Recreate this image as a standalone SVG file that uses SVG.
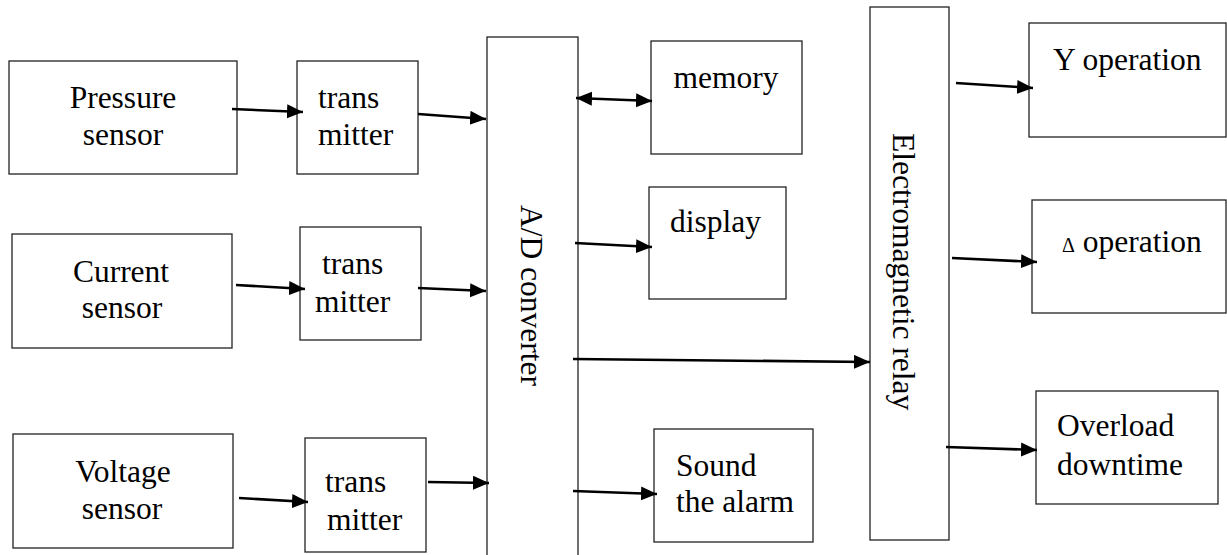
<svg xmlns="http://www.w3.org/2000/svg" width="1227" height="555" viewBox="0 0 1227 555">
  <style>
    .box { fill: #fff; stroke: #222; stroke-width: 1.3; }
    .lbl { font-family: 'Liberation Serif', 'DejaVu Serif', serif; font-size: 31.5px; fill: #000; }
    .mid { text-anchor: middle; }
    .wire { stroke: #000; stroke-width: 2.6; fill: none; marker-end: url(#head); }
    .both { marker-start: url(#head); }
  </style>
  <defs>
    <marker id="head" markerUnits="userSpaceOnUse" markerWidth="18" markerHeight="15" refX="16" refY="7" orient="auto-start-reverse">
      <path d="M0,0 L16,7 L0,14 Z" fill="#000"/>
    </marker>
  </defs>
  <rect width="1227" height="555" fill="#fff"/>

  <!-- sensors -->
  <g id="pressure-sensor">
    <rect class="box" x="9" y="61" width="228" height="113"/>
    <text class="lbl mid" x="123" y="108">Pressure</text>
    <text class="lbl mid" x="123" y="145">sensor</text>
  </g>
  <g id="current-sensor">
    <rect class="box" x="12" y="234" width="220" height="114"/>
    <text class="lbl mid" x="121" y="282">Current</text>
    <text class="lbl mid" x="122" y="318">sensor</text>
  </g>
  <g id="voltage-sensor">
    <rect class="box" x="13" y="434" width="220" height="114"/>
    <text class="lbl mid" x="123" y="482">Voltage</text>
    <text class="lbl mid" x="122" y="519">sensor</text>
  </g>

  <!-- transmitters -->
  <g id="transmitter-1">
    <rect class="box" x="297" y="61" width="121" height="113"/>
    <text class="lbl" x="318" y="108">trans</text>
    <text class="lbl" x="318" y="145">mitter</text>
  </g>
  <g id="transmitter-2">
    <rect class="box" x="300" y="227" width="121" height="113"/>
    <text class="lbl" x="322" y="274">trans</text>
    <text class="lbl" x="315" y="312">mitter</text>
  </g>
  <g id="transmitter-3">
    <rect class="box" x="305" y="438" width="121" height="114"/>
    <text class="lbl" x="325" y="492">trans</text>
    <text class="lbl" x="327" y="530">mitter</text>
  </g>

  <!-- converter -->
  <g id="ad-converter">
    <rect class="box" x="487" y="37" width="91" height="530"/>
    <text class="lbl" transform="translate(521,205) rotate(90)" x="0" y="0">A/D converter</text>
  </g>

  <!-- outputs of the converter -->
  <g id="memory">
    <rect class="box" x="651" y="41" width="151" height="113"/>
    <text class="lbl mid" x="726" y="88">memory</text>
  </g>
  <g id="display">
    <rect class="box" x="649" y="187" width="137" height="112"/>
    <text class="lbl" x="670" y="232">display</text>
  </g>
  <g id="alarm">
    <rect class="box" x="654" y="429" width="159" height="113"/>
    <text class="lbl" x="676" y="476">Sound</text>
    <text class="lbl" x="676" y="512">the alarm</text>
  </g>

  <!-- relay -->
  <g id="relay">
    <rect class="box" x="870" y="7" width="79" height="533"/>
    <text class="lbl" transform="translate(893,133) rotate(90)" x="0" y="0">Electromagnetic relay</text>
  </g>

  <!-- relay outputs -->
  <g id="y-operation">
    <rect class="box" x="1029" y="23" width="197" height="114"/>
    <text class="lbl" x="1053" y="70">Y operation</text>
  </g>
  <g id="delta-operation">
    <rect class="box" x="1032" y="200" width="194" height="113"/>
    <text class="lbl" x="1062" y="252"><tspan font-size="20">Δ</tspan> operation</text>
  </g>
  <g id="overload">
    <rect class="box" x="1036" y="391" width="182" height="113"/>
    <text class="lbl" x="1057" y="436">Overload</text>
    <text class="lbl" x="1057" y="475">downtime</text>
  </g>

  <!-- connectors -->
  <g id="connectors">
    <line class="wire" x1="232" y1="109" x2="303" y2="112"/>
    <line class="wire" x1="418" y1="114" x2="486" y2="119"/>
    <line class="wire" x1="236" y1="285" x2="305" y2="289"/>
    <line class="wire" x1="418" y1="288" x2="486" y2="291"/>
    <line class="wire" x1="239" y1="498" x2="308" y2="502"/>
    <line class="wire" x1="428" y1="482" x2="489" y2="483"/>
    <line class="wire both" x1="576" y1="98" x2="652" y2="101"/>
    <line class="wire" x1="575" y1="243" x2="652" y2="247"/>
    <line class="wire" x1="573" y1="359" x2="870" y2="362"/>
    <line class="wire" x1="573" y1="491" x2="657" y2="494"/>
    <line class="wire" x1="956" y1="83" x2="1033" y2="88"/>
    <line class="wire" x1="952" y1="258" x2="1037" y2="262"/>
    <line class="wire" x1="946" y1="447" x2="1037" y2="450"/>
  </g>
</svg>
